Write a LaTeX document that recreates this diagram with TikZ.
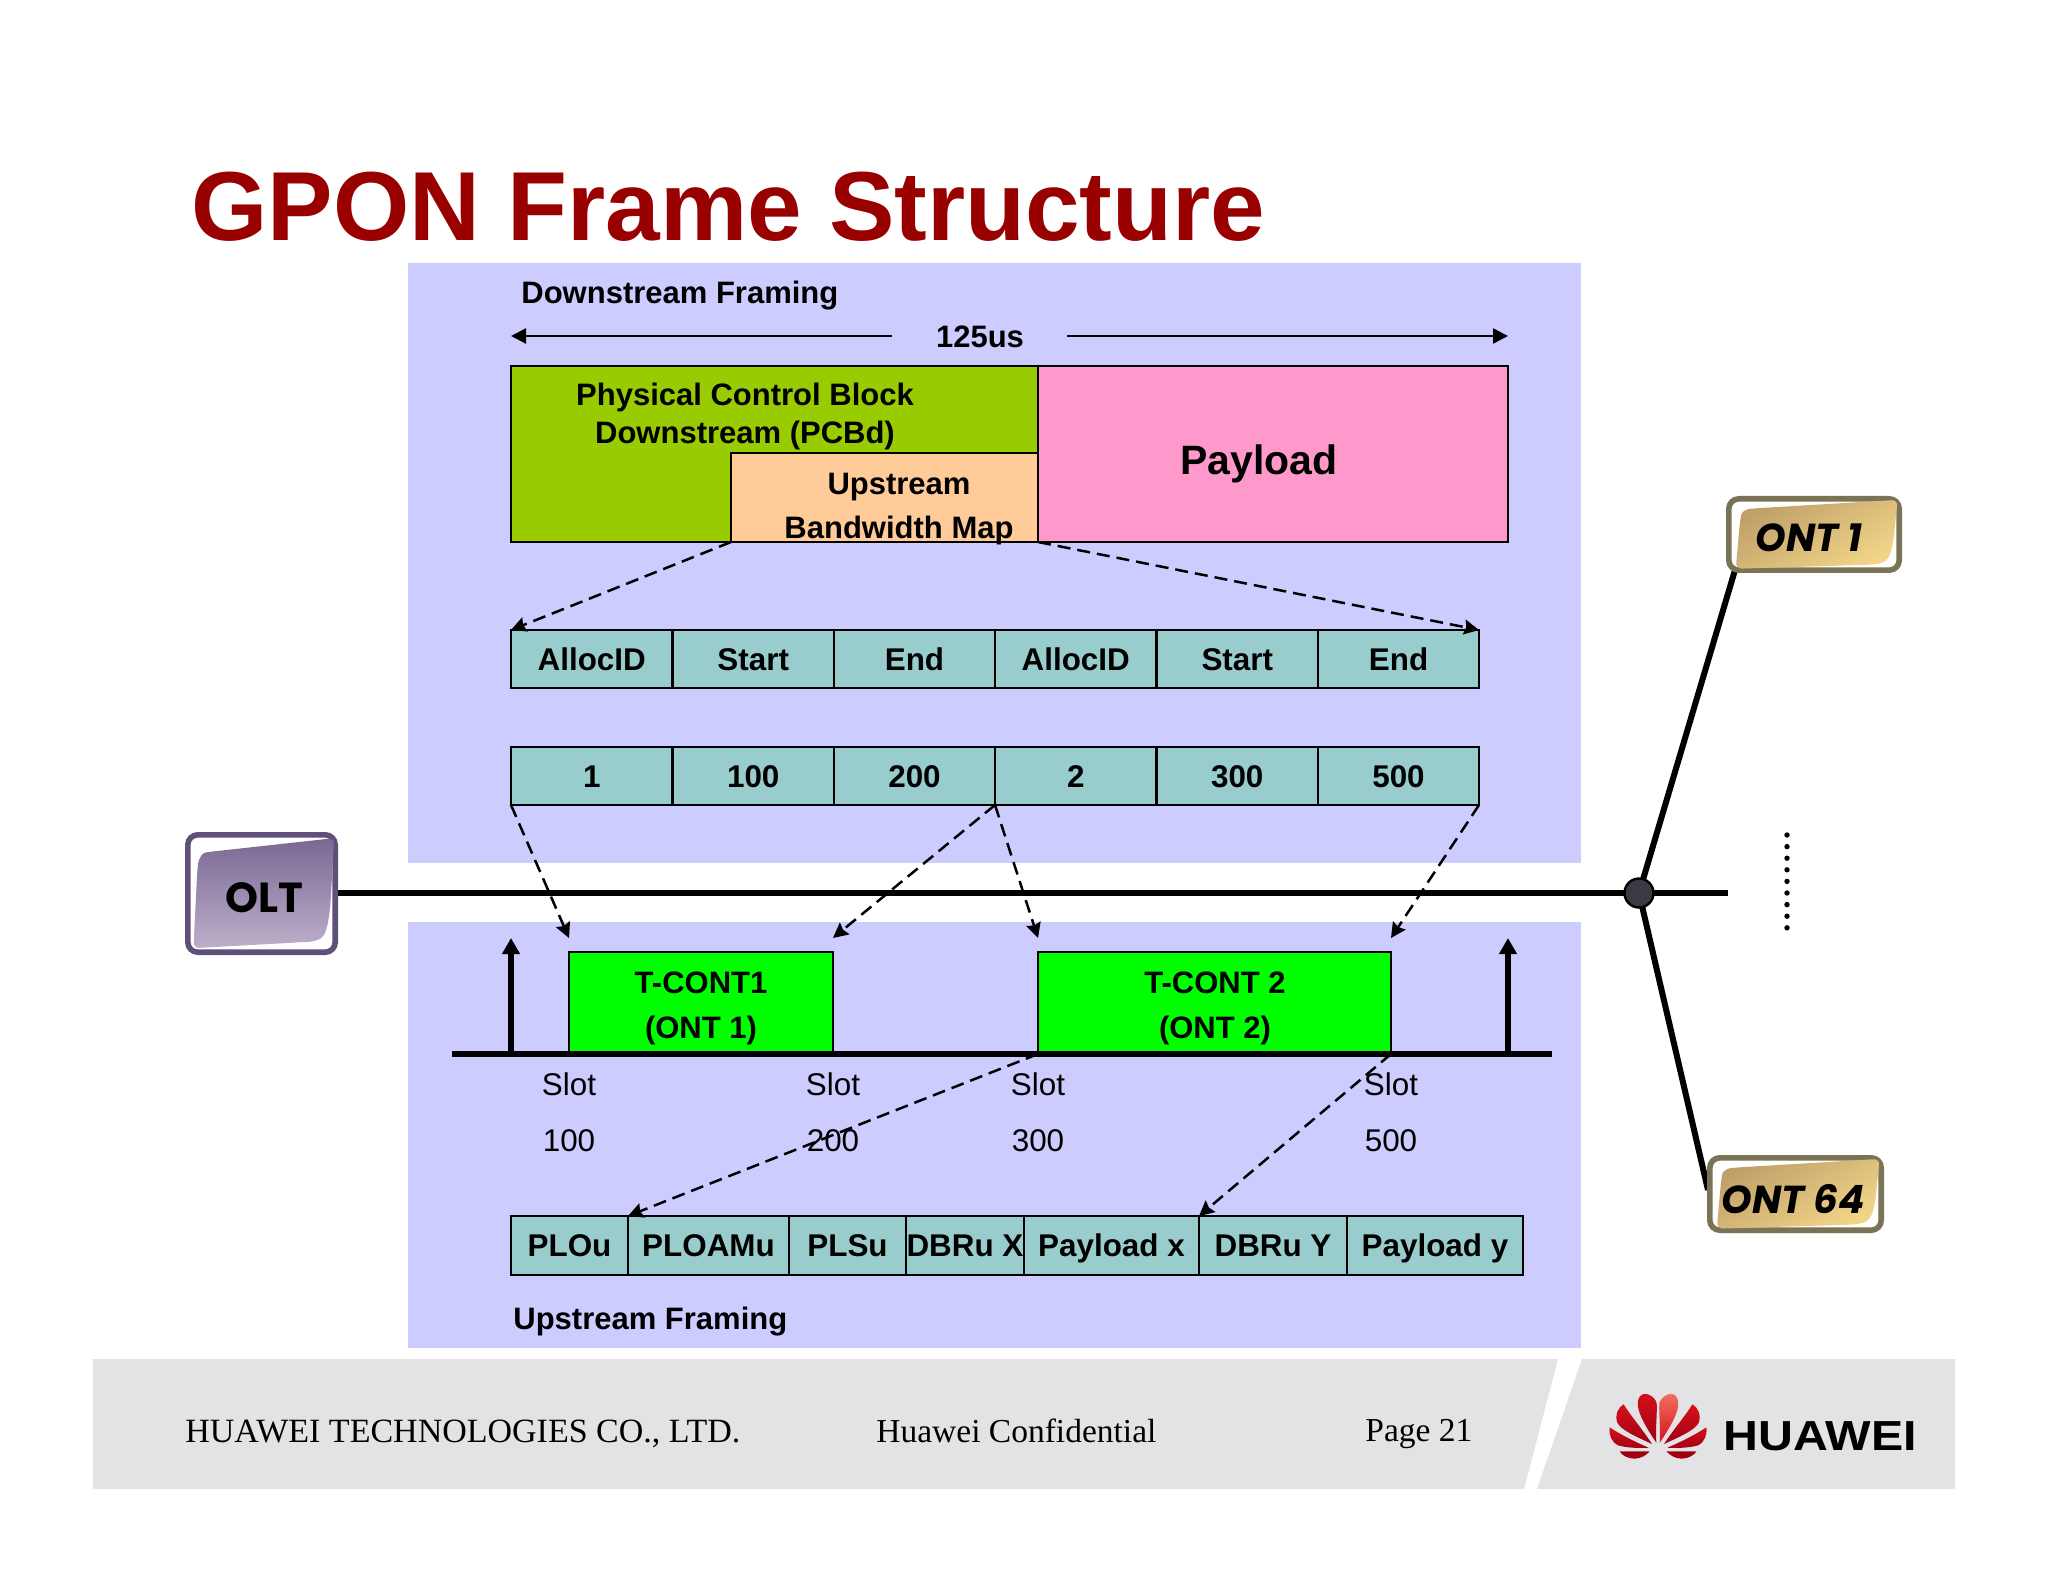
\documentclass[tikz,border=0pt]{standalone}
\usepackage{fontspec}
\setmainfont{Liberation Sans}
\newfontfamily\footserif{Liberation Serif}
\newfontfamily\handfont{Poppins}
\usetikzlibrary{arrows.meta,shapes.geometric}
\definecolor{panelblue}{HTML}{CCCCFF}
\definecolor{pcbgreen}{HTML}{99CC00}
\definecolor{maporange}{HTML}{FFCC99}
\definecolor{paypink}{HTML}{FF99CC}
\definecolor{cellteal}{HTML}{99CCCC}
\definecolor{tcontgreen}{HTML}{00FF00}
\definecolor{titlered}{HTML}{990000}
\definecolor{footgrey}{HTML}{E3E3E6}
\definecolor{oltedge}{HTML}{5E5078}
\definecolor{olttop}{HTML}{7A6894}
\definecolor{oltbot}{HTML}{BDAFCB}
\definecolor{ontedge}{HTML}{7B7355}
\definecolor{onttop}{HTML}{BFA06A}
\definecolor{ontbot}{HTML}{F2D488}
\definecolor{junctiongrey}{HTML}{3A3A42}
\definecolor{logored}{HTML}{D8101C}
\definecolor{logodark}{HTML}{A00010}
\definecolor{logolight}{HTML}{F07868}
\tikzset{
  boxed/.style={draw=black,line width=1.25pt,inner sep=0pt,outer sep=0pt},
  celltext/.style={boxed,fill=cellteal,font=\fontsize{15.7}{18}\selectfont\bfseries,text height=11.3pt,text depth=0pt},
  bluepanel/.style={fill=panelblue,draw=none},
  toparrow/.style={line width=1.2pt,-{Stealth[length=7.5pt,width=7.5pt,inset=0pt]}},
  dasharrow/.style={line width=1.25pt,dash pattern=on 6.5pt off 3.5pt,-{Stealth[length=7.5pt,width=7.5pt,inset=1pt]}},
  stemarrow/.style={line width=2.8pt,-{Stealth[length=8pt,width=8.5pt,inset=0pt]}},
  fibre/.style={line width=3pt,black},
  boldlabel/.style={font=\fontsize{15.5}{22}\selectfont\bfseries,inner sep=0pt,align=center},
  slotlabel/.style={font=\fontsize{15.7}{28}\selectfont,inner sep=0pt,align=center},
  footlabel/.style={font=\footserif\fontsize{17}{20}\selectfont,inner sep=0pt,anchor=base west},
  handlabel/.style={font=\handfont\fontsize{19.5}{22}\selectfont\bfseries\itshape,inner sep=0pt},
}
\newcommand\cellbox[7]{%
  \pgfmathsetmacro\cw{(#4-#2)*0.5}%
  \pgfmathsetmacro\ch{(#5-#3)*0.5}%
  \pgfmathsetmacro\cmx{(#2+#4)/2}%
  \pgfmathsetmacro\cmy{(#3+#5)/2}%
  \node[#6,minimum width=\cw pt,minimum height=\ch pt] (#1) at (\cmx,\cmy) {#7};%
}
\newcommand\glossybox[7]{%
  \pgfmathsetmacro\cw{(#4-#2)*0.5}%
  \pgfmathsetmacro\ch{(#5-#3)*0.5}%
  \pgfmathsetmacro\cmx{(#2+#4)/2}%
  \pgfmathsetmacro\cmy{(#3+#5)/2}%
  \pgfmathsetmacro\iw{\cw-2.8}%
  \pgfmathsetmacro\ih{\ch-2.8}%
  \node[draw=#6,line width=2.8pt,fill=white,rounded corners=5pt,inner sep=0pt,outer sep=0pt,
        minimum width=\iw pt,minimum height=\ih pt] (#1) at (\cmx,\cmy) {};%
  \begin{scope}[shift={(#2,#3)},x=\cw pt,y=-\ch pt]
    \shade[#7,rounded corners=3pt] (.055,.945) -- (.08,.32) .. controls (.09,.2) and (.12,.17) .. (.17,.16)
      -- (.975,.05) -- (.95,.6) .. controls (.93,.8) and (.91,.85) .. (.85,.89) -- cycle;
  \end{scope}%
}
% one half of the logo; #1 and #2 colour the central petal
\newcommand\logopetals[2]{%
  \shade[top color=#1,bottom color=#2] (-5,308) .. controls (-8,260) and (-2,220) .. (-4,190)
     .. controls (-8,170) and (-40,150) .. (-55,170) .. controls (-68,190) and (-62,225) .. (-5,308) -- cycle;
  \shade[top color=logored,bottom color=logodark] (-18,312) .. controls (-45,270) and (-80,230) .. (-103,193)
     .. controls (-122,205) and (-130,225) .. (-122,248) .. controls (-110,272) and (-60,292) .. (-18,312) -- cycle;
  \shade[top color=logored,bottom color=logodark] (-28,323) .. controls (-70,305) and (-110,285) .. (-145,262)
     .. controls (-148,285) and (-140,305) .. (-120,316) .. controls (-95,323) and (-60,325) .. (-28,323) -- cycle;
  \fill[logodark] (-25,334) -- (-115,334) .. controls (-110,345) and (-90,356) .. (-70,356) .. controls (-50,355) and (-35,345) .. (-25,334) -- cycle;
}
\begin{document}
\begin{tikzpicture}[x=0.5pt,y=-0.5pt]
\path[use as bounding box,fill=white] (0,0) rectangle (2048,1582);
% title
\node[font=\fontsize{49.05}{54}\selectfont\bfseries,text=titlered,inner sep=0pt,anchor=base west] (title) at (191,241) {GPON Frame Structure};
% panels
\fill[bluepanel] (408,263) rectangle (1581,863);
\fill[bluepanel] (408,922) rectangle (1581,1348);
% footer band
\fill[footgrey] (93,1359) -- (1558,1359) -- (1524,1489) -- (93,1489) -- cycle;
\fill[footgrey] (1582,1359) -- (1955,1359) -- (1955,1489) -- (1537,1489) -- cycle;
\node[footlabel] (footco) at (185,1442) {HUAWEI TECHNOLOGIES CO., LTD.};
\node[footlabel,font=\footserif\fontsize{16.75}{20}\selectfont] (footconf) at (876,1442) {Huawei Confidential};
\node[footlabel,font=\footserif\fontsize{16.75}{20}\selectfont] (footpage) at (1365,1441) {Page 21};
% logo
\begin{scope}[shift={(1658,1340)},x=0.1667pt,y=-0.1667pt]
  \logopetals{logored}{logodark}
  \begin{scope}[xscale=-1]\logopetals{logolight}{logored}\end{scope}
\end{scope}
\node[font=\fontsize{21}{24}\selectfont\bfseries,inner sep=0pt,anchor=base west,xscale=1.15] (huawei) at (1723,1450) {HUAWEI};
% captions
\node[boldlabel,anchor=base west] (downcap) at (521,304) {Downstream Framing};
\node[boldlabel,anchor=base west] (upcap) at (513,1329) {Upstream Framing};
\node[boldlabel,anchor=base] (usl) at (980,348) {125us};
\coordinate (usleft) at (892,336);
\coordinate (usright) at (1067,336);
% top frame
\cellbox{pcb}{511}{366}{1038}{542}{boxed,fill=pcbgreen}{}
\cellbox{pay}{1038}{366}{1508}{542}{boxed,fill=paypink}{}
\cellbox{map}{731}{453}{1038}{542}{boxed,fill=maporange}{}
\node[boldlabel,font=\fontsize{15.5}{19}\selectfont\bfseries] (pcbl) at (745,416) {Physical Control Block\\Downstream (PCBd)};
\node[boldlabel,font=\fontsize{15.5}{22}\selectfont\bfseries] (mapl) at (899,509) {Upstream\\Bandwidth Map};
\node[font=\fontsize{20.5}{24}\selectfont\bfseries,inner sep=0pt] (payl) at (1259,464) {Payload};
\coordinate (payend) at (1508,336);
\draw[toparrow] (usleft) -- (pcb.north west |- usleft);
\draw[toparrow] (usright) -- (payend);
% alloc rows
\cellbox{a1}{511}{630}{672.5}{688}{celltext}{AllocID}
\cellbox{a2}{672.5}{630}{834}{688}{celltext}{Start}
\cellbox{a3}{834}{630}{995}{688}{celltext}{End}
\cellbox{a4}{995}{630}{1156.5}{688}{celltext}{AllocID}
\cellbox{a5}{1156.5}{630}{1318}{688}{celltext}{Start}
\cellbox{a6}{1318}{630}{1479}{688}{celltext}{End}
\cellbox{b1}{511}{747}{672.5}{805}{celltext}{1}
\cellbox{b2}{672.5}{747}{834}{805}{celltext}{100}
\cellbox{b3}{834}{747}{995}{805}{celltext}{200}
\cellbox{b4}{995}{747}{1156.5}{805}{celltext}{2}
\cellbox{b5}{1156.5}{747}{1318}{805}{celltext}{300}
\cellbox{b6}{1318}{747}{1479}{805}{celltext}{500}
% bus, ONT links
\coordinate (busend) at (1728,893);
\coordinate (junctionc) at (1639,893);
\coordinate (ontafoot) at (1735,570);
\coordinate (ontbfoot) at (1708,1190);
\coordinate (busstart) at (330,893);
\draw[fibre] (busstart) -- (busend);
\draw[fibre] (junctionc) -- (ontafoot);
\draw[fibre] (junctionc) -- (ontbfoot);
\glossybox{olt}{185}{832}{338}{955}{oltedge}{top color=olttop,bottom color=oltbot}
\node[font=\handfont\fontsize{21}{26}\selectfont\bfseries,inner sep=0pt] (oltl) at (264,898) {OLT};
\node[circle,draw=black,line width=1.2pt,fill=junctiongrey,minimum size=14.5pt,inner sep=0pt,outer sep=0pt] (junction) at (junctionc) {};
\glossybox{onta}{1726}{496}{1902}{573}{ontedge}{top color=onttop,bottom color=ontbot,shading angle=30}
\node[handlabel] (ontal) at (1809,538) {ONT 1};
\glossybox{ontb}{1707}{1155}{1884}{1233}{ontedge}{top color=onttop,bottom color=ontbot,shading angle=30}
\node[handlabel] (ontbl) at (1793,1199) {ONT 64};
\foreach \i in {0,...,8} {
  \fill[black] (1787,835+11.6*\i) circle (1.35pt);
}
% upstream timeline
\coordinate (lineleft) at (452,1054);
\coordinate (lineright) at (1552,1054);
\cellbox{t1}{569}{952}{833}{1054}{boxed,fill=tcontgreen}{}
\cellbox{t2}{1038}{952}{1391}{1054}{boxed,fill=tcontgreen}{}
\node[boldlabel,font=\fontsize{15.5}{22.5}\selectfont\bfseries] (t1l) at (701,1008) {T-CONT1\\(ONT 1)};
\node[boldlabel,font=\fontsize{15.5}{22.5}\selectfont\bfseries] (t2l) at (1215,1008) {T-CONT 2\\(ONT 2)};
\coordinate (stema) at (511,1054);
\coordinate (stemb) at (1508,1054);
\coordinate (stemat) at (511,938);
\coordinate (stembt) at (1508,938);
\draw[stemarrow] (stema) -- (stemat);
\draw[stemarrow] (stemb) -- (stembt);
\draw[line width=2.8pt] (lineleft) -- (lineright);
\node[slotlabel] (s1) at (569,1112) {Slot\\100};
\node[slotlabel] (s2) at (833,1112) {Slot\\200};
\node[slotlabel] (s3) at (1038,1112) {Slot\\300};
\node[slotlabel] (s4) at (1391,1112) {Slot\\500};
% upstream frame
\cellbox{u1}{511}{1216}{628}{1275}{celltext}{PLOu}
\cellbox{u2}{628}{1216}{789}{1275}{celltext}{PLOAMu}
\cellbox{u3}{789}{1216}{906}{1275}{celltext}{PLSu}
\cellbox{u4}{906}{1216}{1024}{1275}{celltext}{DBRu X}
\cellbox{u5}{1024}{1216}{1199}{1275}{celltext}{Payload x}
\cellbox{u6}{1199}{1216}{1347}{1275}{celltext}{DBRu Y}
\cellbox{u7}{1347}{1216}{1523}{1275}{celltext}{Payload y}
% dashed connectors
\coordinate (ta) at (569,938);
\coordinate (tb) at (833,938);
\coordinate (tc) at (1038,938);
\coordinate (td) at (1391,938);
\draw[dasharrow] (map.south west) -- (a1.north west);
\draw[dasharrow] (map.south east) -- (a6.north east);
\draw[dasharrow] (b1.south west) -- (ta);
\draw[dasharrow] (b3.south east) -- (tb);
\draw[dasharrow] (b3.south east) -- (tc);
\draw[dasharrow] (b6.south east) -- (td);
\draw[dasharrow] (t2.south west) -- (u2.north west);
\draw[dasharrow] (t2.south east) -- (u6.north west);
\end{tikzpicture}
\end{document}
